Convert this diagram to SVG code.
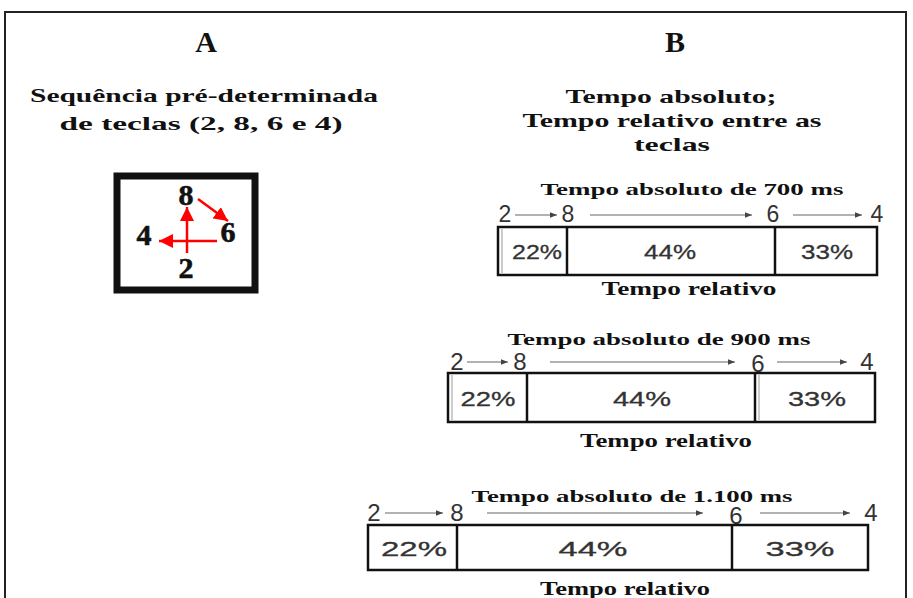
<svg xmlns="http://www.w3.org/2000/svg" width="913" height="598" viewBox="0 0 913 598">
<style>
.hd{font-family:"Liberation Serif",serif;font-weight:bold;fill:#111;text-anchor:middle}
.big{font-size:30px}
.sub{font-size:19px}
.ttl{font-size:17px}
.rel{font-size:19px}
.key{font-family:"Liberation Serif",serif;font-weight:bold;font-size:30px;fill:#111;text-anchor:middle;stroke:#111;stroke-width:0.6}
.num{font-family:"Liberation Sans",Arial,sans-serif;fill:#333;text-anchor:middle}
.pct{font-family:"Liberation Sans",Arial,sans-serif;fill:#333;text-anchor:middle;font-size:21px;stroke:#333;stroke-width:0.3}
.bar{fill:#fff;stroke:#111;stroke-width:2.5}
.div{stroke:#111;stroke-width:2.5}
.thin{stroke:#999;stroke-width:1}
.ga{stroke:#666;stroke-width:1;fill:none;marker-end:url(#ah)}
.ra{stroke:#f00;stroke-width:2.5;fill:none;marker-end:url(#rh)}
</style>
<defs>
<marker id="ah" viewBox="0 0 10 10" refX="10" refY="5" markerWidth="7" markerHeight="7" markerUnits="userSpaceOnUse" orient="auto"><path d="M0,1 L10,5 L0,9 z" fill="#444"/></marker>
<marker id="rh" viewBox="0 0 10 10" refX="10" refY="5" markerWidth="14" markerHeight="14" markerUnits="userSpaceOnUse" orient="auto"><path d="M0,0 L10,5 L0,10 z" fill="#f00"/></marker>
</defs>
<rect width="913" height="598" fill="#fff"/>
<path d="M5,600 V12 H906 V600" fill="none" stroke="#222" stroke-width="2"/>

<g id="headerA">
<text class="hd big" x="206" y="52">A</text>
<text class="hd sub" x="204" y="102" textLength="348" lengthAdjust="spacingAndGlyphs">Sequência pré-determinada</text>
<text class="hd sub" x="201" y="130" textLength="283" lengthAdjust="spacingAndGlyphs">de teclas (2, 8, 6 e 4)</text>
</g>
<g id="headerB">
<text class="hd big" x="675" y="52">B</text>
<text class="hd sub" x="671" y="103" textLength="211" lengthAdjust="spacingAndGlyphs">Tempo absoluto;</text>
<text class="hd sub" x="672" y="127" textLength="299" lengthAdjust="spacingAndGlyphs">Tempo relativo entre as</text>
<text class="hd sub" x="672" y="151" textLength="76" lengthAdjust="spacingAndGlyphs">teclas</text>
</g>

<g id="keypad">
<rect x="117" y="176" width="138" height="114" fill="#fff" stroke="#111" stroke-width="7"/>
<text class="key" x="186" y="205">8</text>
<text class="key" x="144" y="245">4</text>
<text class="key" x="228" y="242">6</text>
<text class="key" x="186" y="278">2</text>
</g>
<g id="keyArrows">
<path class="ra" d="M187,253 V207"/>
<path class="ra" d="M217,241 H159"/>
<path class="ra" d="M198,199 L228,221"/>
</g>

<g id="panel700">
<text class="hd ttl" x="692" y="195" textLength="303" lengthAdjust="spacingAndGlyphs">Tempo absoluto de 700 ms</text>
<text class="num" x="505" y="222" font-size="23">2</text>
<text class="num" x="568" y="222" font-size="23">8</text>
<text class="num" x="773" y="222" font-size="23">6</text>
<text class="num" x="877" y="222" font-size="23">4</text>
<rect class="bar" x="498" y="227" width="379" height="48"/>
<line class="thin" x1="502" y1="229" x2="502" y2="273"/>
<line class="div" x1="567" y1="227" x2="567" y2="275"/>
<line class="div" x1="775" y1="227" x2="775" y2="275"/>
<text class="pct" x="537" y="259" textLength="50" lengthAdjust="spacingAndGlyphs">22%</text>
<text class="pct" x="670" y="259" textLength="52" lengthAdjust="spacingAndGlyphs">44%</text>
<text class="pct" x="827" y="259" textLength="52" lengthAdjust="spacingAndGlyphs">33%</text>
<text class="hd rel" x="689" y="295" textLength="175" lengthAdjust="spacingAndGlyphs">Tempo relativo</text>
</g>

<g id="panel900">
<text class="hd ttl" x="659" y="345" textLength="303" lengthAdjust="spacingAndGlyphs">Tempo absoluto de 900 ms</text>
<text class="num" x="457" y="370" font-size="24">2</text>
<text class="num" x="520" y="370" font-size="24">8</text>
<text class="num" x="758" y="372" font-size="24">6</text>
<text class="num" x="867" y="370" font-size="24">4</text>
<rect class="bar" x="448" y="373" width="427" height="49"/>
<line class="thin" x1="452" y1="375" x2="452" y2="420"/>
<line class="div" x1="527" y1="373" x2="527" y2="422"/>
<line class="div" x1="755" y1="373" x2="755" y2="422"/>
<line class="thin" x1="759" y1="375" x2="759" y2="420"/>
<text class="pct" x="488" y="406" textLength="55" lengthAdjust="spacingAndGlyphs">22%</text>
<text class="pct" x="642" y="406" textLength="58" lengthAdjust="spacingAndGlyphs">44%</text>
<text class="pct" x="817" y="406" textLength="58" lengthAdjust="spacingAndGlyphs">33%</text>
<text class="hd rel" x="666" y="447" textLength="172" lengthAdjust="spacingAndGlyphs">Tempo relativo</text>
</g>

<g id="panel1100">
<text class="hd ttl" x="632" y="502" textLength="321" lengthAdjust="spacingAndGlyphs">Tempo absoluto de 1.100 ms</text>
<text class="num" x="374" y="521" font-size="24">2</text>
<text class="num" x="457" y="521" font-size="24">8</text>
<text class="num" x="736" y="524" font-size="24">6</text>
<text class="num" x="871" y="521" font-size="24">4</text>
<rect class="bar" x="368" y="525" width="500" height="45"/>
<line class="div" x1="457" y1="525" x2="457" y2="570"/>
<line class="div" x1="732" y1="525" x2="732" y2="570"/>
<text class="pct" x="414" y="556" textLength="66" lengthAdjust="spacingAndGlyphs">22%</text>
<text class="pct" x="593" y="556" textLength="69" lengthAdjust="spacingAndGlyphs">44%</text>
<text class="pct" x="800" y="556" textLength="69" lengthAdjust="spacingAndGlyphs">33%</text>
<text class="hd rel" x="625" y="595" textLength="170" lengthAdjust="spacingAndGlyphs">Tempo relativo</text>
</g>

<g id="connectors">
<path class="ga" d="M515,215 H557"/>
<path class="ga" d="M590,215 H752"/>
<path class="ga" d="M793,215 H862"/>
<path class="ga" d="M467,362 H508"/>
<path class="ga" d="M550,362 H735"/>
<path class="ga" d="M777,362 H847"/>
<path class="ga" d="M385,513 H443"/>
<path class="ga" d="M487,513 H703"/>
<path class="ga" d="M760,513 H850"/>
</g>
</svg>
